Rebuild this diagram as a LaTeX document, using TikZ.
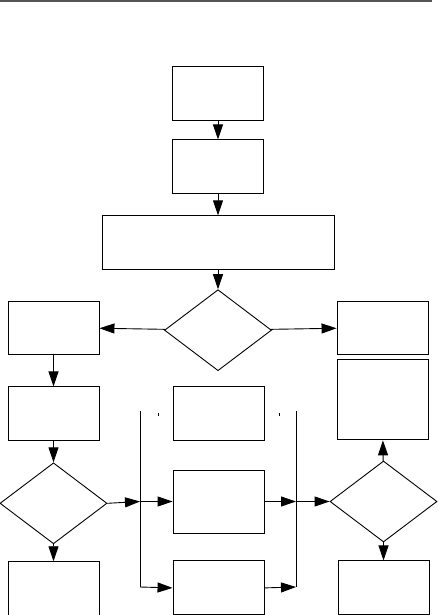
\documentclass[tikz,border=0pt]{standalone}
\usepackage{tikz}
\usetikzlibrary{arrows.meta,positioning,shapes.geometric}
\definecolor{FlowRule}{HTML}{555555}

\begin{document}
\begin{tikzpicture}[x=1pt, y=-1pt, line width=0.9pt,
    stepbox/.style={draw, inner sep=0pt, minimum width=91pt, minimum height=54pt},
    decision/.style={draw, diamond, inner sep=0pt, minimum width=107pt, minimum height=81pt},
    flow/.style={-{Triangle[length=15pt, width=10pt]}}]
    \useasboundingbox (0,0) rectangle (437,615);
    \draw[FlowRule, line width=2pt] (0,1) -- (432,1);

    % main column
    \node[stepbox] (start) at (218,93) {};
    \node[stepbox, below=19pt of start] (prep) {};
    \node[stepbox, minimum width=232pt, below=21pt of prep] (setup) {};
    \node[decision, below=19pt of setup] (check) {};

    % side columns
    \node[stepbox, minimum height=53pt] (left) at (53.5,327.5) {};
    \node[stepbox, minimum height=53pt] (right) at (382.5,327.5) {};
    \node[stepbox, minimum height=80pt, below=5pt of right] (rightwait) {};
    \node[stepbox, below=32pt of left] (leftnext) {};
    \node[decision, below=21pt of leftnext] (leftcheck) {};
    \node[stepbox, below=17pt of leftcheck] (leftend) {};

    % middle block
    \node[stepbox] (midtop) at (218.5,413) {};
    \node[stepbox, minimum height=63pt] (midrun) at (218.5,501.5) {};
    \node[stepbox, below=27pt of midrun] (midalt) {};
    \node[decision] (rightcheck) at (383.5,501.5) {};
    \node[stepbox, below=18pt of rightcheck] (rightend) {};

    % junction lines
    \coordinate (jl top) at (140,411);
    \coordinate (jl mid) at (140,501.5);
    \coordinate (jl bot) at (140,587);
    \coordinate (jr top) at (296,411);
    \coordinate (jr mid) at (296,501.5);
    \coordinate (jr bot) at (296,587);
    \draw (jl top) -- (jl bot);
    \draw (jr top) -- (jr bot);
    \draw (158,413) -- (158,416);
    \draw (279,413) -- (279,416);

    \draw[flow] (start) -- (prep);
    \draw[flow] (prep) -- (setup);
    \draw[flow] (setup) -- (check);
    \draw[flow] (check) -- (left);
    \draw[flow] (check) -- (right);
    \draw[flow] (left) -- (leftnext);
    \draw[flow] (leftnext) -- (leftcheck);
    \draw[flow] (leftcheck) -- (leftend);
    \draw[flow] (leftcheck.east) -- (jl mid);
    \draw[flow] (jl mid) -- (midrun.west);
    \draw[flow] (jl bot) -- (midalt.west);
    \draw[flow] (midrun.east) -- (jr mid);
    \draw[flow] (midalt.east) -- (jr bot);
    \draw[flow] (jr mid) -- (rightcheck.west);
    \draw[flow] (rightcheck) -- (rightwait);
    \draw[flow] (rightcheck) -- (rightend);
\end{tikzpicture}
\end{document}
